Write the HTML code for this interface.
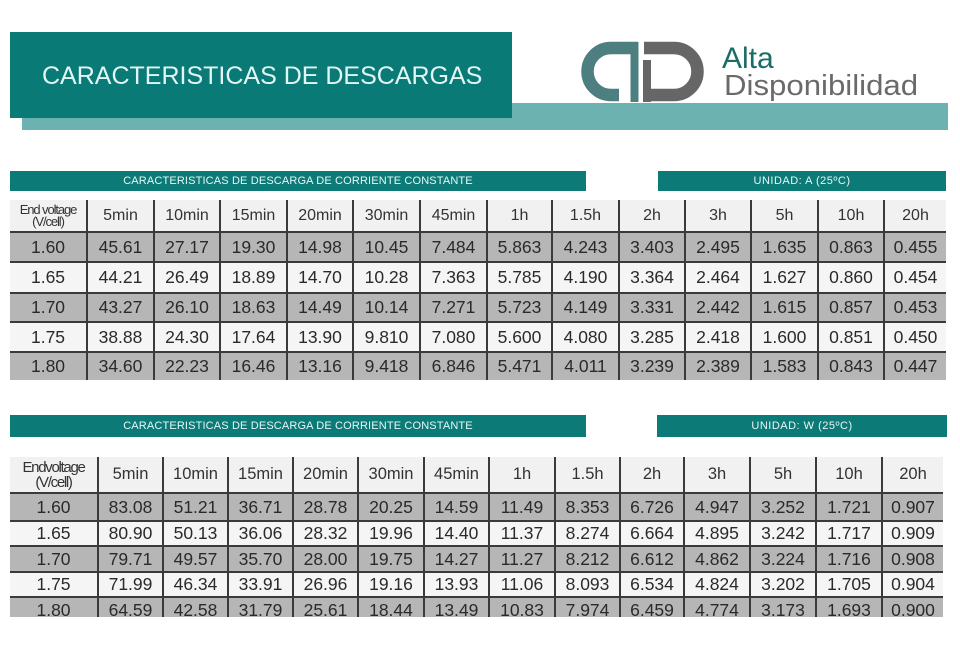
<!DOCTYPE html>
<html><head><meta charset="utf-8">
<style>
html,body{margin:0;padding:0;background:#fff;}
body{width:960px;height:654px;position:relative;overflow:hidden;font-family:"Liberation Sans",Arial,sans-serif;}
.abs{position:absolute;}
.t{position:absolute;border-collapse:collapse;table-layout:fixed;}
.t td{padding:0;text-align:center;vertical-align:middle;color:#2a2a2a;font-size:17.5px;border-left:2px solid #3a3a3a;border-top:2px solid #3a3a3a;white-space:nowrap;overflow:hidden;}
.t td:first-child{border-left:none;}
.t tr:first-child td{border-top:none;background:#f1f1f1;font-size:16px;color:#333;}
.t tr.g td{background:#b6b6b6;}
.t tr.w td{background:#f5f5f5;}
.ev{font-size:13px;letter-spacing:-1.1px;line-height:12px;color:#333;}
.bar{position:absolute;background:#0c7b77;color:#e8f7f6;font-size:11px;text-align:center;white-space:nowrap;}
</style></head><body>

<!-- Header -->
<div class="abs" style="left:22px;top:103px;width:926px;height:27px;background:#6bb2b0;"></div>
<div class="abs" style="left:10px;top:32px;width:502px;height:86px;background:#097a76;"></div>
<div class="abs" style="left:42px;top:61px;font-size:25px;line-height:30px;color:#e2f6f5;white-space:nowrap;letter-spacing:0px;">CARACTERISTICAS DE DESCARGAS</div>

<svg class="abs" style="left:0;top:0;" width="960" height="140" viewBox="0 0 960 140">
  <path d="M638 48 H611 A23 23 0 0 0 611 95 H619" fill="none" stroke="#4e7f80" stroke-width="12.5"/>
  <rect x="630.5" y="42" width="8" height="60" fill="#4e7f80"/>
  <path d="M644 48 H674 A23 23 0 0 1 674 95 H644" fill="none" stroke="#666666" stroke-width="12.5"/>
  <rect x="643" y="60" width="8" height="42" fill="#666666"/>
</svg>
<div class="abs" style="left:722px;top:42px;font-size:30px;line-height:34px;color:#1c6c66;white-space:nowrap;">Alta</div>
<div class="abs" style="left:724px;top:69px;font-size:29px;line-height:34px;color:#6a6a6a;white-space:nowrap;transform:scaleX(1.075);transform-origin:0 0;">Disponibilidad</div>

<!-- Table 1 bars -->
<div class="bar" style="left:10px;top:171px;width:576px;height:20px;line-height:21px;letter-spacing:0.15px;">CARACTERISTICAS DE DESCARGA DE CORRIENTE CONSTANTE</div>
<div class="bar" style="left:658px;top:171px;width:288px;height:20px;line-height:21px;letter-spacing:0.5px;">UNIDAD: A (25ºC)</div>

<table class="t" style="left:10px;top:200px;width:936px;">
<colgroup><col style="width:77px"><col style="width:67px"><col style="width:66px"><col style="width:67px"><col style="width:66px"><col style="width:67px"><col style="width:67px"><col style="width:65px"><col style="width:67px"><col style="width:66px"><col style="width:66px"><col style="width:67px"><col style="width:66px"><col style="width:62px"></colgroup>
<tr style="height:32px"><td><div class="ev">End voltage<br>(V/cell)</div></td><td>5min</td><td>10min</td><td>15min</td><td>20min</td><td>30min</td><td>45min</td><td>1h</td><td>1.5h</td><td>2h</td><td>3h</td><td>5h</td><td>10h</td><td>20h</td></tr>
<tr class="g" style="height:30px"><td>1.60</td><td>45.61</td><td>27.17</td><td>19.30</td><td>14.98</td><td>10.45</td><td>7.484</td><td>5.863</td><td>4.243</td><td>3.403</td><td>2.495</td><td>1.635</td><td>0.863</td><td>0.455</td></tr>
<tr class="w" style="height:31px"><td>1.65</td><td>44.21</td><td>26.49</td><td>18.89</td><td>14.70</td><td>10.28</td><td>7.363</td><td>5.785</td><td>4.190</td><td>3.364</td><td>2.464</td><td>1.627</td><td>0.860</td><td>0.454</td></tr>
<tr class="g" style="height:29px"><td>1.70</td><td>43.27</td><td>26.10</td><td>18.63</td><td>14.49</td><td>10.14</td><td>7.271</td><td>5.723</td><td>4.149</td><td>3.331</td><td>2.442</td><td>1.615</td><td>0.857</td><td>0.453</td></tr>
<tr class="w" style="height:30px"><td>1.75</td><td>38.88</td><td>24.30</td><td>17.64</td><td>13.90</td><td>9.810</td><td>7.080</td><td>5.600</td><td>4.080</td><td>3.285</td><td>2.418</td><td>1.600</td><td>0.851</td><td>0.450</td></tr>
<tr class="g" style="height:28px"><td>1.80</td><td>34.60</td><td>22.23</td><td>16.46</td><td>13.16</td><td>9.418</td><td>6.846</td><td>5.471</td><td>4.011</td><td>3.239</td><td>2.389</td><td>1.583</td><td>0.843</td><td>0.447</td></tr>
</table>

<!-- Table 2 bars -->
<div class="bar" style="left:10px;top:415px;width:576px;height:22px;line-height:23px;letter-spacing:0.15px;">CARACTERISTICAS DE DESCARGA DE CORRIENTE CONSTANTE</div>
<div class="bar" style="left:657px;top:415px;width:290px;height:22px;line-height:23px;letter-spacing:0.5px;">UNIDAD: W (25ºC)</div>

<div class="abs" style="left:0;top:457px;width:960px;height:160px;overflow:hidden;">
<table class="t" style="left:10px;top:0;width:933px;">
<colgroup><col style="width:88px"><col style="width:65px"><col style="width:65px"><col style="width:65px"><col style="width:65px"><col style="width:66px"><col style="width:65px"><col style="width:66px"><col style="width:65px"><col style="width:64px"><col style="width:66px"><col style="width:66px"><col style="width:66px"><col style="width:61px"></colgroup>
<tr style="height:36px"><td><div class="ev" style="font-size:15px;line-height:15px;letter-spacing:-1.3px;">Endvoltage<br>(V/cell)</div></td><td style="font-size:16.5px">5min</td><td style="font-size:16.5px">10min</td><td style="font-size:16.5px">15min</td><td style="font-size:16.5px">20min</td><td style="font-size:16.5px">30min</td><td style="font-size:16.5px">45min</td><td style="font-size:16.5px">1h</td><td style="font-size:16.5px">1.5h</td><td style="font-size:16.5px">2h</td><td style="font-size:16.5px">3h</td><td style="font-size:16.5px">5h</td><td style="font-size:16.5px">10h</td><td style="font-size:16.5px">20h</td></tr>
<tr class="g" style="height:28px"><td>1.60</td><td>83.08</td><td>51.21</td><td>36.71</td><td>28.78</td><td>20.25</td><td>14.59</td><td>11.49</td><td>8.353</td><td>6.726</td><td>4.947</td><td>3.252</td><td>1.721</td><td>0.907</td></tr>
<tr class="w" style="height:25px"><td>1.65</td><td>80.90</td><td>50.13</td><td>36.06</td><td>28.32</td><td>19.96</td><td>14.40</td><td>11.37</td><td>8.274</td><td>6.664</td><td>4.895</td><td>3.242</td><td>1.717</td><td>0.909</td></tr>
<tr class="g" style="height:26px"><td>1.70</td><td>79.71</td><td>49.57</td><td>35.70</td><td>28.00</td><td>19.75</td><td>14.27</td><td>11.27</td><td>8.212</td><td>6.612</td><td>4.862</td><td>3.224</td><td>1.716</td><td>0.908</td></tr>
<tr class="w" style="height:25px"><td>1.75</td><td>71.99</td><td>46.34</td><td>33.91</td><td>26.96</td><td>19.16</td><td>13.93</td><td>11.06</td><td>8.093</td><td>6.534</td><td>4.824</td><td>3.202</td><td>1.705</td><td>0.904</td></tr>
<tr class="g" style="height:26px"><td>1.80</td><td>64.59</td><td>42.58</td><td>31.79</td><td>25.61</td><td>18.44</td><td>13.49</td><td>10.83</td><td>7.974</td><td>6.459</td><td>4.774</td><td>3.173</td><td>1.693</td><td>0.900</td></tr>
</table>
</div>

</body></html>
